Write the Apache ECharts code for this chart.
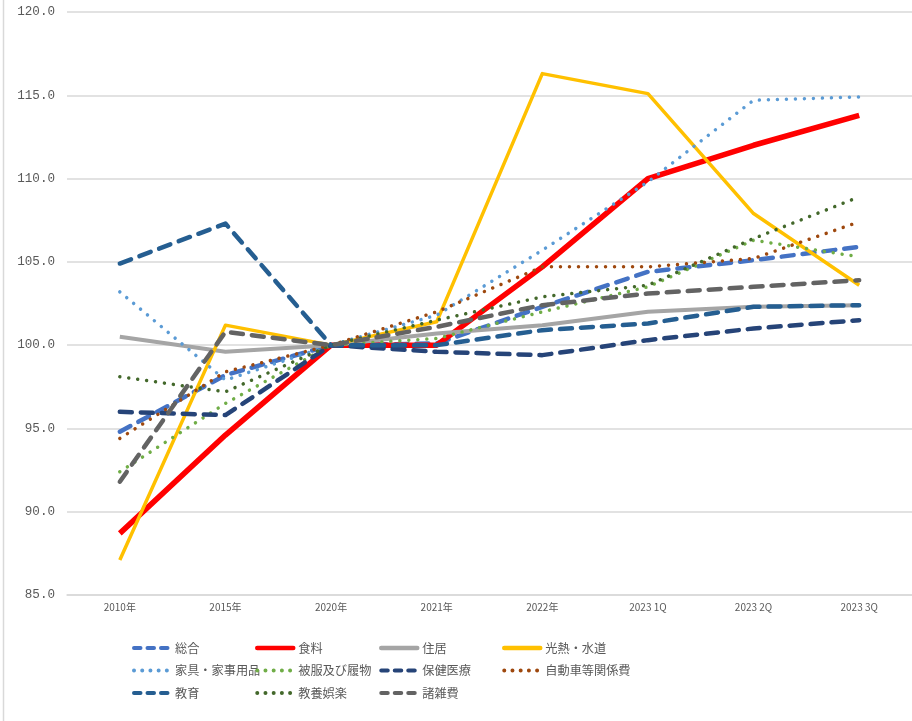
<!DOCTYPE html>
<html>
<head>
<meta charset="utf-8">
<script src="https://cdn.jsdelivr.net/npm/echarts@6/dist/echarts.min.js"></script>
<style>
  html, body { margin: 0; padding: 0; background: #ffffff; }
  #chart { width: 912px; height: 721px; }
</style>
</head>
<body>
<div id="chart"></div>
<script>
// 消費者物価指数（2020年＝100）費目別の推移
const categories = ['2010年', '2015年', '2020年', '2021年', '2022年', '2023 1Q', '2023 2Q', '2023 3Q'];

const sogo       = [94.8, 98.2, 100, 100.1, 102.3, 104.4, 105.1, 105.9];
const shokuryo   = [88.7, 94.6, 100, 100.0, 104.7, 110.0, 112.0, 113.8];
const jukyo      = [100.5, 99.6, 100, 100.7, 101.2, 102.0, 102.3, 102.4];
const konetsu    = [87.1, 101.2, 100, 101.4, 116.3, 115.1, 107.9, 103.6];
const kagu       = [103.2, 97.9, 100, 101.8, 105.7, 109.8, 114.7, 114.9];
const hifuku     = [92.4, 96.5, 100, 100.4, 102.0, 103.5, 106.3, 105.3];
const hoken      = [96.0, 95.8, 100, 99.6, 99.4, 100.3, 101.0, 101.5];
const jidosha    = [94.4, 98.4, 100, 102.0, 104.7, 104.7, 105.2, 107.4];
const kyoiku     = [104.9, 107.3, 100, 100.0, 100.9, 101.3, 102.3, 102.4];
const kyoyo      = [98.1, 97.2, 100, 101.5, 102.9, 103.6, 106.4, 108.9];
const shozappi   = [91.8, 100.8, 100, 101.1, 102.4, 103.1, 103.5, 103.9];

const yTicks = [85, 90, 95, 100, 105, 110, 115, 120];

// 線種: 実線 / 破線 / 点線
const DASH = [12, 9];
const DOT = [0.01, 9];
const LEGEND_DASH = [6.5, 7];
const LEGEND_DOT = [0.01, 8.2];

const seriesDefs = [
  { name: '総合',         data: sogo,     color: '#4472C4', style: 'dash',  width: 4.5 },
  { name: '食料',         data: shokuryo, color: '#FF0000', style: 'solid', width: 5.5 },
  { name: '住居',         data: jukyo,    color: '#A5A5A5', style: 'solid', width: 4 },
  { name: '光熱・水道',   data: konetsu,  color: '#FFC000', style: 'solid', width: 3.5 },
  { name: '家具・家事用品', data: kagu,   color: '#5B9BD5', style: 'dot',   width: 3.5 },
  { name: '被服及び履物', data: hifuku,   color: '#70AD47', style: 'dot',   width: 3.5 },
  { name: '保健医療',     data: hoken,    color: '#264478', style: 'dash',  width: 4.5 },
  { name: '自動車等関係費', data: jidosha, color: '#9E480E', style: 'dot',  width: 3.5 },
  { name: '教育',         data: kyoiku,   color: '#255E91', style: 'dash',  width: 4.5 },
  { name: '教養娯楽',     data: kyoyo,    color: '#43682B', style: 'dot',   width: 3.5 },
  { name: '諸雑費',       data: shozappi, color: '#636363', style: 'dash',  width: 4.5 }
];

function lineType(style, legend) {
  if (style === 'dash') return legend ? LEGEND_DASH : DASH;
  if (style === 'dot') return legend ? LEGEND_DOT : DOT;
  return 'solid';
}

const series = seriesDefs.map(d => ({
  name: d.name,
  type: 'line',
  data: d.data,
  symbol: 'none',
  showSymbol: false,
  smooth: false,
  color: d.color,
  lineStyle: {
    color: d.color,
    width: d.width,
    type: lineType(d.style, false),
    cap: d.style === 'solid' ? 'butt' : 'round',
    join: 'round'
  },
  emphasis: { disabled: true },
  animation: false
}));

// 凡例: 線のみ（記号なし）、4列に並べる
function legendItem(d) {
  return {
    name: d.name,
    itemStyle: { color: 'rgba(0,0,0,0)', borderWidth: 0, opacity: 0 },
    lineStyle: {
      color: d.color,
      width: d.style === 'solid' ? 4.5 : 4,
      type: lineType(d.style, true),
      cap: 'round',
      opacity: 1
    }
  };
}

const legendColumns = [[0, 4, 8], [1, 5, 9], [2, 6, 10], [3, 7]];
const legendLefts = [132, 255, 379, 502];

const legends = legendColumns.map((idxs, c) => ({
  left: legendLefts[c],
  top: 642,
  orient: 'vertical',
  itemWidth: 36,
  itemHeight: 14,
  itemGap: 10.3,
  padding: 0,
  selectedMode: false,
  textStyle: {
    color: '#595959',
    fontSize: 12.2,
    fontFamily: 'Noto Sans CJK JP'
  },
  data: idxs.map(i => legendItem(seriesDefs[i]))
}));

const chart = echarts.init(document.getElementById('chart'), null, { renderer: 'canvas' });

chart.setOption({
  animation: false,
  backgroundColor: '#ffffff',
  grid: { left: 67, top: 12, width: 850, height: 583, containLabel: false },
  xAxis: {
    type: 'category',
    data: categories,
    boundaryGap: true,
    axisLine: { show: true, lineStyle: { color: '#D9D9D9', width: 1.5 } },
    axisTick: { show: false },
    axisLabel: {
      color: '#595959',
      fontSize: 10,
      fontFamily: 'Noto Sans CJK JP',
      margin: 7
    },
    splitLine: { show: false }
  },
  yAxis: {
    type: 'value',
    min: yTicks[0],
    max: yTicks[yTicks.length - 1],
    interval: 5,
    axisLine: { show: false },
    axisTick: { show: false },
    axisLabel: {
      color: '#595959',
      fontSize: 12.6,
      fontFamily: 'Liberation Mono',
      margin: 12,
      formatter: v => v.toFixed(1)
    },
    splitLine: { show: true, lineStyle: { color: '#D9D9D9', width: 1.5 } }
  },
  legend: legends,
  graphic: [
    {
      type: 'line',
      shape: { x1: 3.5, y1: 0, x2: 3.5, y2: 721 },
      style: { stroke: '#D9D9D9', lineWidth: 1.5 },
      silent: true
    }
  ],
  series: series
});
</script>
</body>
</html>
